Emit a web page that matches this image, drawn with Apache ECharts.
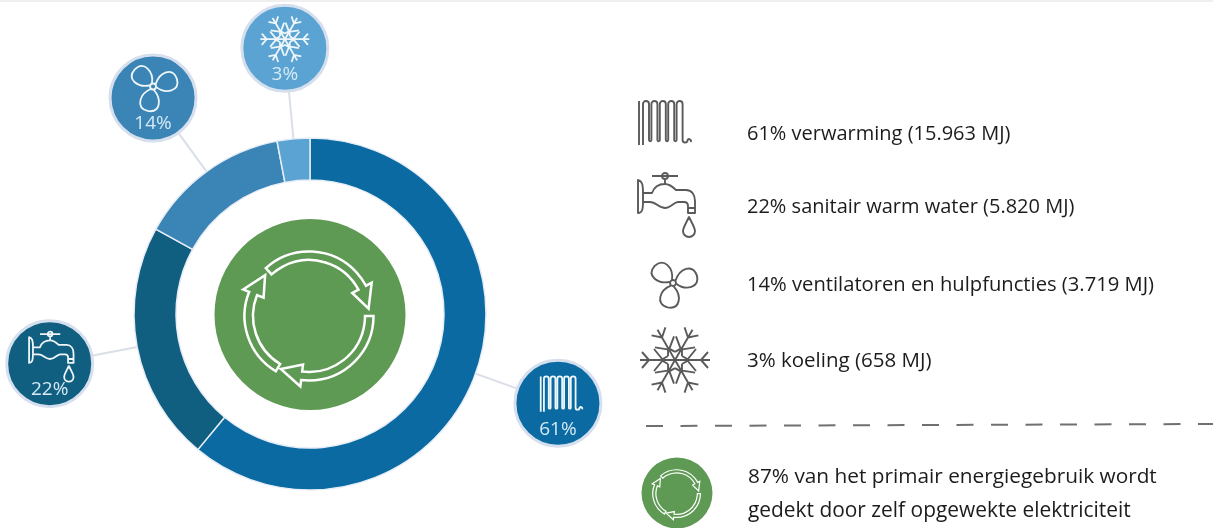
<!DOCTYPE html>
<html><head><meta charset="utf-8">
<style>html,body{margin:0;padding:0;background:#fff}#c{width:1213px;height:528px}</style>
<script src="https://cdn.jsdelivr.net/npm/echarts@6/dist/echarts.min.js"></script>
</head><body><div id="c"></div>
<script>
const categories = ['verwarming', 'sanitair warm water', 'ventilatoren en hulpfuncties', 'koeling'];
const shares = [61, 22, 14, 3];
const energyLabels = ['15.963 MJ', '5.820 MJ', '3.719 MJ', '658 MJ'];
const footnoteLines = ['87% van het primair energiegebruik wordt', 'gedekt door zelf opgewekte elektriciteit'];

const sliceColors = ['#0a6aa1', '#105f80', '#3a84b6', '#5aa3d2'];
const iconNames = ['radiator', 'tap', 'fan', 'snow'];
const FONT = '"Open Sans", sans-serif';
const C = [310, 314], R_OUT = 176, R_IN = 134;
const bubbleDist = [263.5, 265, 267, 267];
const bubbleR = 43;
const bubbleIcon = [[2, -10, 0.8], [2, -7, 0.78], [0, -11.5, 1], [0, -9, 0.7]];
const legendIcon = [[663, 122, 1], [667, 205, 1], [673, 283, 1], [675, 360, 1]];
const legendTextY = [134, 207, 285, 361];
const legendFontSize = [20, 20, 20.2, 20.5];

function radiatorPath() {
  let d = 'M1 4V47M1 3V4M5 47V6';
  for (let i = 0; i < 5; i++) {
    d += 'a3 3 0 0 1 6 0V42';
    if (i < 4) d += 'a1.2 1.2 0 0 0 2.4 0V6';
  }
  d += 'a2.5 2.5 0 0 0 5 0a1.5 1.5 0 0 1 3 2';
  return d;
}
const paths = {
  radiator: [{ d: radiatorPath(), x: -25, y: -24 }],
  tap: [{ d: 'M0 7C4 8 5 11 5 20H14C16 14 21 11 27 11C32 11 35 14 38 17H48C54 17 57 22 57 28V40H50V33C50 31 49 29 46 29H40C36 29 33 35 27 35C21 35 18 29 12 29H5C5 37 4 40 0 40ZM50 35H57M14 3H40M27 6V11M51 44C47 52 45 55 45 58A6 6 0 0 0 57 58C57 55 55 52 51 44ZM30 3A3 3 0 1 1 24 3A3 3 0 1 1 30 3M5 20V29', x: -29, y: -32 }],
  fan: [0.78, -1.3, -3.4].map(rot => ({
    d: 'M-1.5 -3C-12 -10 -14 -24 -1 -25C12 -25 11 -10 1.5 -3',
    rot
  })).concat([{ d: 'M3 0A3 3 0 1 1 -3 0A3 3 0 1 1 3 0' }]),
  snow: [0, 1, 2, 3, 4, 5].map(i => ({
    d: 'M0 0L35 0M26 0L33 -8M26 0L33 8M12 0L21 -11M12 0L21 11M7 -4L14 0L7 4',
    rot: i * Math.PI / 3
  }))
};

function pt(r, deg) {
  const a = deg * Math.PI / 180;
  return (r * Math.sin(a)).toFixed(2) + ' ' + (-r * Math.cos(a)).toFixed(2);
}
function arrowPath(a, b, tip) {
  const rO = 64.5, rI = 56, hO = 71, hI = 49, m = 60;
  return 'M' + pt(rO, a) + 'A' + rO + ' ' + rO + ' 0 0 1 ' + pt(rO, b) +
    'L' + pt(hO, b) + 'L' + pt(m, tip) + 'L' + pt(hI, b) + 'L' + pt(rI, b) +
    'A' + rI + ' ' + rI + ' 0 0 0 ' + pt(rI, a) + 'Z';
}
const recyclePaths = [arrowPath(-42, 62, 83), arrowPath(90, 187, 208), arrowPath(211, 292, 313)];

function icon(name, x, y, s, color, lw) {
  return {
    type: 'group', x, y, scaleX: s, scaleY: s,
    children: paths[name].map(p => ({
      type: 'path',
      x: p.x || 0, y: p.y || 0, rotation: p.rot || 0,
      shape: { pathData: p.d },
      style: { fill: 'none', stroke: color, lineWidth: lw / s, lineJoin: 'round' }
    }))
  };
}
function recycle(cx, cy, s, lw) {
  return {
    type: 'group', x: cx, y: cy, scaleX: s, scaleY: s,
    children: recyclePaths.map(d => ({
      type: 'path', shape: { pathData: d },
      style: { fill: 'none', stroke: '#fff', lineWidth: lw / s, lineJoin: 'miter' }
    }))
  };
}
function midAngle(i) {
  const total = shares.reduce((a, b) => a + b, 0);
  let cum = 0;
  for (let k = 0; k < i; k++) cum += shares[k];
  return (cum + shares[i] / 2) / total * 360;
}
function polar(r, deg) {
  const a = deg * Math.PI / 180;
  return [C[0] + r * Math.sin(a), C[1] - r * Math.cos(a)];
}

function renderCategory(params, api) {
  const i = params.dataIndex;
  const deg = midAngle(i);
  const b = polar(bubbleDist[i], deg);
  const l0 = polar(R_OUT, deg), l1 = polar(bubbleDist[i] - bubbleR - 1, deg);
  const bi = bubbleIcon[i], li = legendIcon[i];
  const name = iconNames[i];
  return {
    type: 'group',
    children: [
      { type: 'line', shape: { x1: l0[0], y1: l0[1], x2: l1[0], y2: l1[1] }, style: { stroke: '#dadfe7', lineWidth: 2 } },
      { type: 'circle', shape: { cx: b[0], cy: b[1], r: bubbleR }, style: { fill: sliceColors[i], stroke: '#d5dfee', lineWidth: 3 } },
      icon(name, b[0] + bi[0], b[1] + bi[1], bi[2], '#eef6fa', 1.8),
      { type: 'text', style: { text: shares[i] + '%', x: b[0], y: b[1] + 26, align: 'center', verticalAlign: 'middle', fill: '#d5eaf5', font: '19px ' + FONT } },
      icon(name, li[0], li[1], li[2], '#5a5a5a', 1.9),
      { type: 'text', style: { text: shares[i] + '% ' + categories[i] + ' (' + energyLabels[i] + ')', x: 747, y: legendTextY[i], align: 'left', verticalAlign: 'middle', fill: '#1c1c1c', font: legendFontSize[i] + 'px ' + FONT } }
    ]
  };
}
function renderExtras() {
  return {
    type: 'group',
    children: [
      { type: 'rect', shape: { x: 0, y: 0, width: 1213, height: 2 }, style: { fill: '#efefef' } },
      { type: 'circle', shape: { cx: 310, cy: 314.5, r: 95.5 }, style: { fill: '#5f9a55' } },
      recycle(309, 316, 1, 2.5),
      { type: 'line', shape: { x1: 646, y1: 426, x2: 1213, y2: 424 }, style: { stroke: '#707070', lineWidth: 2, lineDash: [17, 17.5] } },
      { type: 'circle', shape: { cx: 677, cy: 493, r: 35.5 }, style: { fill: '#5f9a55' } },
      recycle(676.6, 493.6, 0.37, 1.2),
      { type: 'text', style: { text: footnoteLines[0], x: 748, y: 477, align: 'left', verticalAlign: 'middle', fill: '#1c1c1c', font: '20.8px ' + FONT } },
      { type: 'text', style: { text: footnoteLines[1], x: 748, y: 511, align: 'left', verticalAlign: 'middle', fill: '#1c1c1c', font: '20.9px ' + FONT } }
    ]
  };
}

const chart = echarts.init(document.getElementById('c'), null, { renderer: 'canvas' });
chart.setOption({
  backgroundColor: '#ffffff',
  animation: false,
  series: [
    {
      type: 'pie', silent: true, center: C, radius: [R_IN, R_OUT], startAngle: 90, clockwise: true,
      label: { show: false }, labelLine: { show: false },
      itemStyle: { borderColor: '#e6edf6', borderWidth: 1.5 },
      data: categories.map((n, i) => ({ name: n, value: shares[i], itemStyle: { color: sliceColors[i] } }))
    },
    { type: 'custom', coordinateSystem: 'none', silent: true, renderItem: renderCategory, data: shares },
    { type: 'custom', coordinateSystem: 'none', silent: true, renderItem: renderExtras, data: [0] }
  ]
});
</script></body></html>
